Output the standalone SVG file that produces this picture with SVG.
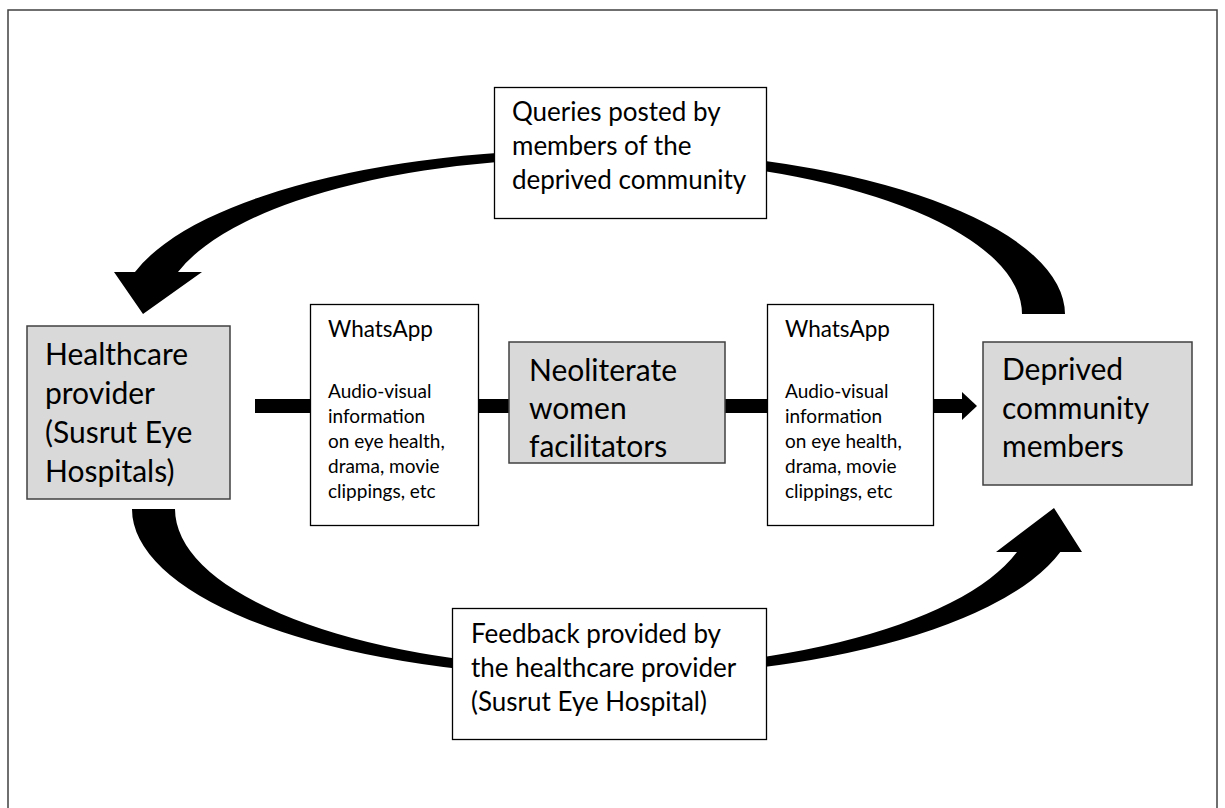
<svg xmlns="http://www.w3.org/2000/svg" width="1225" height="808" viewBox="0 0 1225 808">
<style>
.big{font-family:Lato,"Liberation Sans",sans-serif;font-size:30px;fill:#000}
.mid{font-family:Lato,"Liberation Sans",sans-serif;font-size:26px;fill:#000}
.ttl{font-family:Lato,"Liberation Sans",sans-serif;font-size:22.5px;fill:#000}
.sm{font-family:Lato,"Liberation Sans",sans-serif;font-size:19px;fill:#000}
.gbox{fill:#d9d9d9;stroke:#404040;stroke-width:1.5}
.wbox{fill:#fff;stroke:#000;stroke-width:1.3}
.arr{fill:#000;stroke:none}
</style>
<rect x="0" y="0" width="1225" height="808" fill="#fff"/>
<rect x="8" y="10" width="1209" height="820" fill="none" stroke="#404040" stroke-width="1.5"/>
<g id="connectors">
<path class="arr" d="M 1065 314 A 473 165 0 0 0 135 272 L 114 272 L 143 314 L 202 272 L 178 272 A 430 156 0 0 1 1022 314 Z"/>
<path class="arr" d="M 132 509 A 472 168 0 0 0 1060.3 552 L 1082 552 L 1054 508 L 996 552 L 1017 552 A 429 159.4 0 0 1 175 509 Z"/>
<rect class="arr" x="255" y="399" width="707" height="14"/>
<polygon class="arr" points="962,392 977,406 962,420"/>
</g>
<g id="queries">
<rect class="wbox" x="494.5" y="87.5" width="272" height="131"/>
<text class="mid" x="512" y="121">Queries posted by</text>
<text class="mid" x="512" y="155">members of the</text>
<text class="mid" x="512" y="189">deprived community</text>
</g>
<g id="feedback">
<rect class="wbox" x="452.5" y="608.5" width="314" height="131"/>
<text class="mid" x="471" y="643">Feedback provided by</text>
<text class="mid" x="471" y="677">the healthcare provider</text>
<text class="mid" x="471" y="711">(Susrut Eye Hospital)</text>
</g>
<g id="healthcare">
<rect class="gbox" x="27" y="326" width="203" height="173"/>
<text class="big" x="45" y="365">Healthcare</text>
<text class="big" x="45" y="404">provider</text>
<text class="big" x="45" y="443">(Susrut Eye</text>
<text class="big" x="45" y="482">Hospitals)</text>
</g>
<g id="whatsapp1">
<rect class="wbox" x="310.5" y="304.5" width="168" height="221"/>
<text class="ttl" x="328" y="337">WhatsApp</text>
<text class="sm" x="328" y="398">Audio-visual</text>
<text class="sm" x="328" y="423">information</text>
<text class="sm" x="328" y="448">on eye health,</text>
<text class="sm" x="328" y="473">drama, movie</text>
<text class="sm" x="328" y="498">clippings, etc</text>
</g>
<g id="neoliterate">
<rect class="gbox" x="509" y="342" width="216" height="121"/>
<text class="big" x="529" y="381">Neoliterate</text>
<text class="big" x="529" y="419">women</text>
<text class="big" x="529" y="457">facilitators</text>
</g>
<g id="whatsapp2">
<rect class="wbox" x="767.5" y="304.5" width="166" height="221"/>
<text class="ttl" x="785" y="337">WhatsApp</text>
<text class="sm" x="785" y="398">Audio-visual</text>
<text class="sm" x="785" y="423">information</text>
<text class="sm" x="785" y="448">on eye health,</text>
<text class="sm" x="785" y="473">drama, movie</text>
<text class="sm" x="785" y="498">clippings, etc</text>
</g>
<g id="deprived">
<rect class="gbox" x="983" y="342" width="209" height="143"/>
<text class="big" x="1002" y="380">Deprived</text>
<text class="big" x="1002" y="419">community</text>
<text class="big" x="1002" y="457">members</text>
</g>
</svg>
